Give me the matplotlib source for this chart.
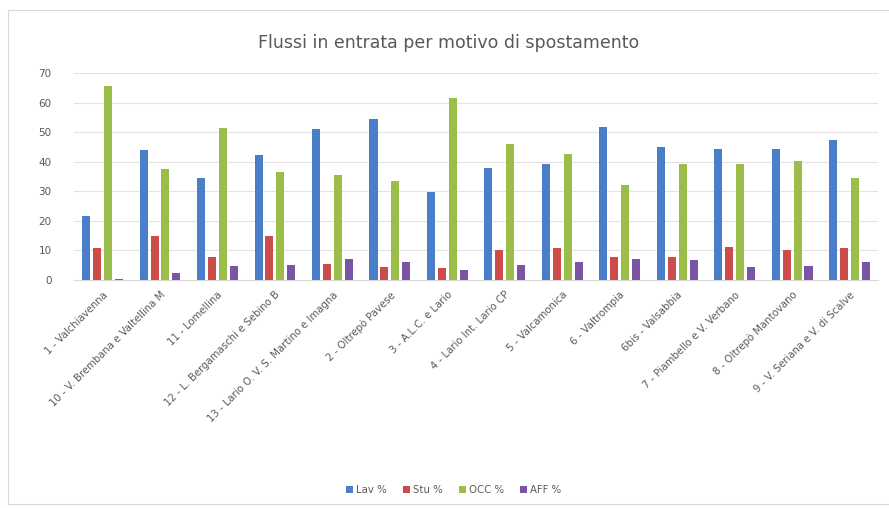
import numpy as np
import matplotlib
matplotlib.use("Agg")
import matplotlib.pyplot as plt
from matplotlib.patches import Rectangle

# zone labels (x axis)
zone = [
    "1 - Valchiavenna",
    "10 - V. Brembana e Valtellina M",
    "11 - Lomellina",
    "12 - L. Bergamaschi e Sebino B",
    "13 - Lario O. V. S. Martino e Imagna",
    "2 - Oltrepò Pavese",
    "3 - A.L.C. e Lario",
    "4 - Lario Int. Lario CP",
    "5 - Valcamonica",
    "6 - Valtrompia",
    "6bis - Valsabbia",
    "7 - Piambello e V. Verbano",
    "8 - Oltrepò Mantovano",
    "9 - V. Seriana e V. di Scalve",
]
lav = [21.5, 44.0, 34.5, 42.3, 51.0, 54.4, 29.6, 37.8, 39.3, 51.9, 45.1, 44.2, 44.2, 47.4]
stu = [10.7, 14.7, 7.9, 14.7, 5.3, 4.3, 4.0, 10.2, 10.9, 7.9, 7.7, 11.1, 10.2, 10.7]
occ = [65.5, 37.5, 51.4, 36.7, 35.6, 33.6, 61.5, 45.9, 42.6, 32.2, 39.3, 39.2, 40.1, 34.4]
aff = [0.3, 2.3, 4.7, 5.1, 7.0, 6.2, 3.4, 5.1, 6.2, 7.0, 6.8, 4.5, 4.7, 6.0]

series = [("Lav %", lav, "#4A7EC9"), ("Stu %", stu, "#CC4B4B"),
          ("OCC %", occ, "#9BBE4B"), ("AFF %", aff, "#7A55A5")]

fig = plt.figure(figsize=(8.89, 5.08), dpi=100)
ax = fig.add_axes([0.083, 0.449, 0.905, 0.407])

x = np.arange(len(zone))
w = 0.14
step = 0.19
for i, (lab, vals, col) in enumerate(series):
    ax.bar(x + step * (i - 1.5), vals, w, color=col, label=lab, zorder=3)

ax.set_xlim(-0.5, len(zone) - 0.5)
ax.set_ylim(0, 70)
ax.set_yticks(range(0, 71, 10))
ax.yaxis.grid(True, color="#e3e3e3", linewidth=0.8, zorder=0)
for s in ["top", "right", "left"]:
    ax.spines[s].set_visible(False)
ax.spines["bottom"].set_color("#d9d9d9")
ax.tick_params(axis="y", length=0, labelsize=7.5, labelcolor="#595959", pad=16)
ax.tick_params(axis="x", length=0, labelsize=7.3, labelcolor="#595959", pad=7)
ax.set_xticks(x)
ax.set_xticklabels(zone, rotation=45, ha="right", rotation_mode="anchor")

fig.text(0.505, 0.915, "Flussi in entrata per motivo di spostamento",
         ha="center", va="center", fontsize=12.5, color="#595959")

fig.legend(loc="center", bbox_to_anchor=(0.51, 0.035), ncol=4, frameon=False,
           fontsize=7.3, handlelength=0.7, handleheight=0.7, handletextpad=0.3,
           columnspacing=1.6, labelcolor="#595959")

fig.add_artist(Rectangle((0.009, 0.008), 1.2, 0.972, transform=fig.transFigure,
                         fill=False, edgecolor="#d9d9d9", linewidth=0.8))

fig.savefig("out.png", dpi=100)
